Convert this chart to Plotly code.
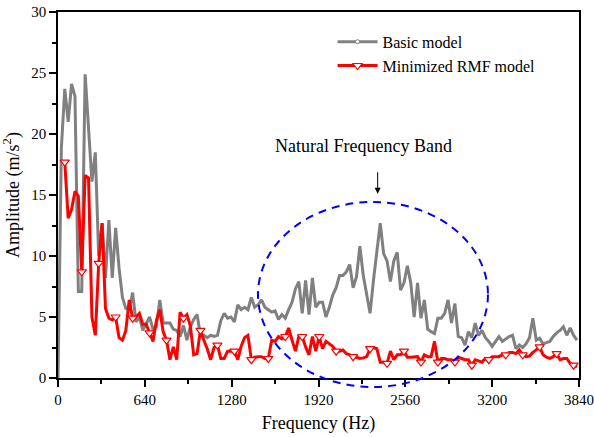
import plotly.graph_objects as go

# ---- data ----
freq = list(range(0, 3826, 25))  # 0 .. 3825 Hz, 25 Hz step

basic = [0, 18.9, 23.7, 21.0, 24.1, 23.1, 7.1, 7.1, 24.9, 20.5,
         16.1, 18.5, 10.0, 12.7, 8.2, 12.95, 8.2, 12.3, 9.0, 6.6,
         5.7, 5.6, 7.0, 4.6, 5.0, 3.9, 4.5, 5.0, 4.0, 4.2,
         6.4, 4.5, 4.5, 4.5, 4.0, 3.9, 3.4, 4.3, 3.1, 4.2,
         4.8, 5.2, 3.5, 3.5, 3.3, 3.5, 3.4, 3.5, 4.7, 5.3,
         4.9, 5.0, 4.6, 6.0, 5.6, 5.8, 5.6, 6.6, 5.8, 6.0,
         6.4, 5.8, 5.6, 5.4, 5.5, 4.8, 5.2, 4.9, 5.6, 6.2,
         7.3, 7.9, 5.3, 8.0, 5.2, 8.2, 5.8, 6.2, 6.2, 5.0,
         5.8, 6.8, 7.4, 8.4, 8.4, 8.7, 9.3, 7.4, 8.3, 10.8,
         8.4, 7.0, 5.3, 8.0, 10.6, 12.7, 10.2, 9.6, 7.9, 9.6,
         10.3, 7.2, 7.8, 9.2, 7.8, 5.0, 7.8, 4.9, 6.4, 4.0,
         3.8, 3.65, 4.9, 4.9, 5.3, 6.4, 4.5, 6.1, 3.4, 3.3,
         2.7, 3.8, 3.3, 4.5, 3.5, 3.9, 3.3, 3.0, 2.6, 3.0,
         3.4, 3.0, 3.2, 3.4, 3.5, 2.4, 2.7, 2.5, 2.8, 3.3,
         4.9, 3.1, 3.25, 2.8, 2.9, 3.0, 3.4, 3.7, 3.9, 4.2,
         3.5, 4.1, 3.5, 3.1]

freq_rmf = freq[2:]
rmf = [17.7, 13.1, 13.8, 15.3, 14.9, 8.7, 16.6, 16.4, 5.0, 3.5,
       9.4, 12.7, 5.7, 4.9, 4.75, 5.0, 3.3, 3.1, 3.9, 6.4,
       4.9, 5.0, 5.3, 4.4, 4.4, 3.7, 3.0, 4.7, 5.6, 3.8,
       3.1, 1.5, 2.55, 1.5, 5.4, 4.9, 5.2, 4.3, 1.9, 2.0,
       3.9, 3.1, 2.4, 1.5, 2.5, 2.7, 1.6, 1.6, 2.2, 2.2,
       2.2, 1.5, 2.6, 3.3, 3.5, 1.5, 1.7, 1.75, 1.75, 1.6,
       1.6, 3.1, 3.0, 3.4, 3.2, 3.4, 4.1, 3.1, 2.2, 3.4,
       3.4, 2.55, 1.9, 3.4, 2.2, 3.4, 2.4, 3.0, 2.8, 2.6,
       2.2, 2.2, 2.3, 2.0, 1.9, 1.75, 1.7, 1.6, 1.65, 1.75,
       2.4, 2.5, 2.4, 1.3, 1.3, 1.2, 2.2, 1.5, 1.9, 1.9,
       2.2, 1.7, 1.7, 1.7, 1.75, 1.3, 1.9, 1.75, 1.75, 3.0,
       1.3, 1.6, 1.6, 1.5, 1.5, 1.3, 1.7, 1.6, 1.5, 1.5,
       1.05, 1.5, 1.4, 1.3, 1.6, 1.5, 1.75, 1.75, 1.75, 1.9,
       1.9, 2.1, 2.1, 2.0, 2.3, 1.9, 1.75, 1.8, 2.1, 2.3,
       2.55, 1.9, 1.7, 1.6, 1.75, 2.0, 1.5, 1.6, 1.6, 1.2,
       1.05, 0.9]
marker_every = 5

x_ticks = [0, 640, 1280, 1920, 2560, 3200, 3840]
y_ticks = [0, 5, 10, 15, 20, 25, 30]

band_f = [1474, 3169]      # ellipse extent in Hz
band_amp = [-0.74, 14.43]  # ellipse extent in amplitude
arrow_f, arrow_amp = 2356, 15.1
label_f, label_amp = 2255, 19.0

XMAX, YMAX = 3840, 30
FONT = "Liberation Serif, Times New Roman, serif"
GRAY = "#808080"
RED = "#ff0000"

fig = go.Figure()
fig.add_trace(go.Scatter(x=freq, y=basic, mode="lines",
                         line=dict(color=GRAY, width=3), showlegend=False))
fig.add_trace(go.Scatter(x=freq_rmf, y=rmf, mode="lines",
                         line=dict(color=RED, width=3), showlegend=False))
fig.add_trace(go.Scatter(x=freq_rmf[::marker_every], y=rmf[::marker_every], mode="markers",
                         marker=dict(symbol="triangle-down", size=8, color="white",
                                     line=dict(color=RED, width=1.2)),
                         showlegend=False))
# legend entries
fig.add_trace(go.Scatter(x=[None], y=[None], mode="lines+markers", name="Basic model",
                         line=dict(color=GRAY, width=3),
                         marker=dict(symbol="circle", size=4, color="white",
                                     line=dict(color=GRAY, width=1))))
fig.add_trace(go.Scatter(x=[None], y=[None], mode="lines+markers", name="Minimized RMF model",
                         line=dict(color=RED, width=3),
                         marker=dict(symbol="triangle-down", size=8, color="white",
                                     line=dict(color=RED, width=1.2))))

fig.add_shape(type="circle", xref="paper", yref="paper",
              x0=band_f[0] / XMAX, x1=band_f[1] / XMAX,
              y0=band_amp[0] / YMAX, y1=band_amp[1] / YMAX,
              line=dict(color="#0000ff", width=2, dash="8px,6px"), layer="above")

fig.add_annotation(x=label_f, y=label_amp, xref="x", yref="y", text="Natural Frequency Band",
                   showarrow=False, font=dict(family=FONT, size=18, color="black"))
fig.add_annotation(x=arrow_f, y=arrow_amp, xref="x", yref="y", text=" ",
                   showarrow=True, ax=0, ay=-30, arrowhead=2, arrowsize=1.2,
                   arrowwidth=1, arrowcolor="black")

axis_common = dict(showline=True, linecolor="black", linewidth=1.5, mirror=True,
                   ticks="outside", ticklen=7, tickwidth=1.5, tickcolor="black",
                   showgrid=False, zeroline=False, automargin=False,
                   tickfont=dict(family=FONT, size=15, color="black"))

fig.update_xaxes(range=[0, XMAX], tickvals=x_ticks,
                 minor=dict(ticks="outside", ticklen=4, tickwidth=1.5, tickcolor="black",
                            dtick=320, tick0=0, showgrid=False),
                 title=dict(text="Frequency (Hz)", font=dict(family=FONT, size=18, color="black"),
                            standoff=10),
                 **axis_common)
fig.update_yaxes(range=[0, YMAX], tickvals=y_ticks,
                 minor=dict(ticks="outside", ticklen=4, tickwidth=1.5, tickcolor="black",
                            dtick=2.5, tick0=0, showgrid=False),
                 title=dict(text="Amplitude (m/s<sup>2</sup>)",
                            font=dict(family=FONT, size=18, color="black"), standoff=8),
                 **axis_common)

fig.update_layout(width=594, height=437,
                  margin=dict(l=58, r=15, t=12, b=59),
                  plot_bgcolor="white", paper_bgcolor="white",
                  font=dict(family=FONT, color="black"),
                  legend=dict(x=0.527, y=0.965, xanchor="left", yanchor="top",
                              bgcolor="rgba(0,0,0,0)", borderwidth=0,
                              font=dict(family=FONT, size=16, color="black"),
                              itemwidth=40, tracegroupgap=0))

fig.write_html("out.html")
